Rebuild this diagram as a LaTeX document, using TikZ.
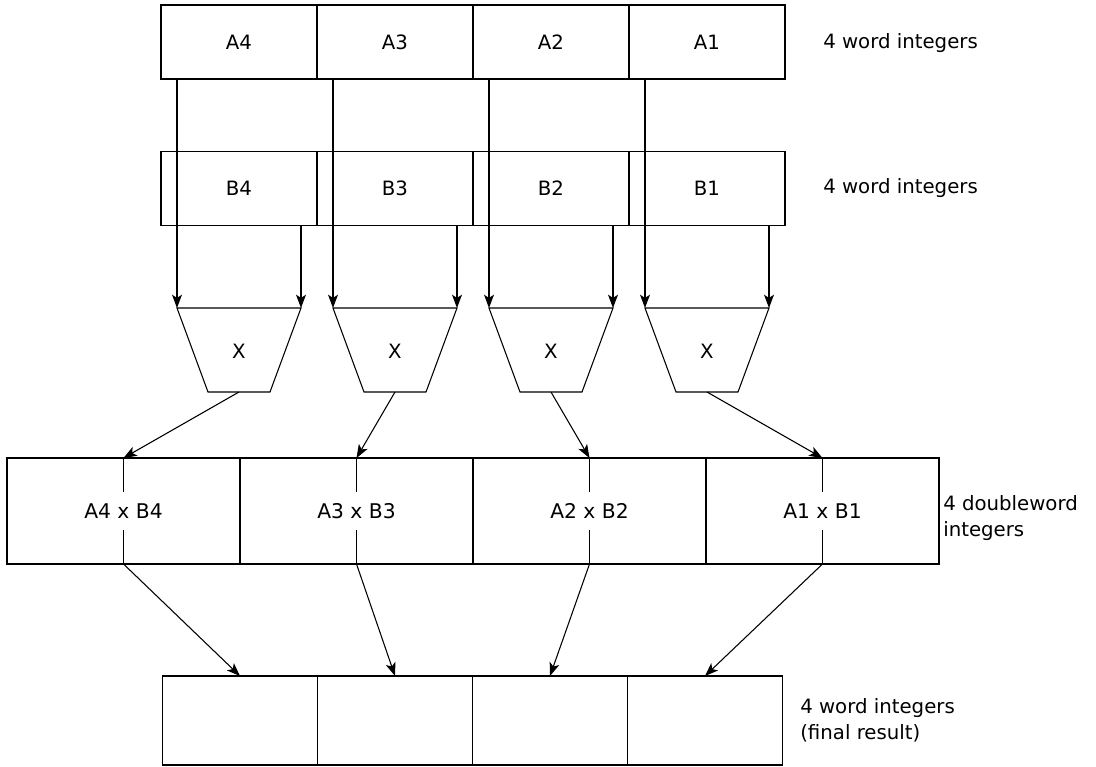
\documentclass[tikz,border=0pt]{standalone}
\usepackage{fontspec}
\setmainfont{DejaVu Sans}
\usetikzlibrary{arrows.meta}

\begin{document}
\begin{tikzpicture}[x=0.75pt,y=-0.75pt,
    font=\fontsize{14.8}{19.5}\selectfont,
    >={Stealth[length=10pt,width=7.5pt,inset=2.5pt]},
    cell/.style={draw,line width=0.9pt,inner sep=0pt,outer sep=0pt},
    word/.style={cell,minimum width=117pt,minimum height=55.5pt},
    dword/.style={cell,minimum width=174.75pt,minimum height=79.5pt},
    res/.style={cell,minimum width=116.25pt,minimum height=66.75pt},
    prod/.style={inner sep=0pt,minimum height=28.5pt,font=\fontsize{15.2}{19.5}\selectfont},
    lbl/.style={anchor=west,align=left,inner sep=0pt},
    wire/.style={line width=0.8pt},
    arr/.style={wire,->},
  ]
  \useasboundingbox (0,0) rectangle (1096,767);

  % Operand rows
  \foreach \i [count=\k from 0] in {4,3,2,1}{
    \node[word] (a\i) at (239+156*\k,42) {A\i};
    \node[word] (b\i) at (239+156*\k,188.5) {B\i};
  }

  % Multipliers
  \foreach \i [count=\k from 0] in {4,3,2,1}{
    \pgfmathsetmacro\cx{239+156*\k}
    \coordinate (tl\i) at (\cx-62,308);
    \coordinate (tr\i) at (\cx+62,308);
    \coordinate (bl\i) at (\cx-31,392);
    \coordinate (br\i) at (\cx+31,392);
    \coordinate (out\i) at (\cx,392);
    \draw[wire] (tl\i) -- (tr\i) -- (br\i) -- (bl\i) -- cycle;
    \node (mul\i) at (\cx,351) {X};
    \draw[arr] (tl\i |- a\i.south) -- (tl\i);
    \draw[arr] (tr\i |- b\i.south) -- (tr\i);
  }

  % Products and final result
  \foreach \i [count=\k from 0] in {4,3,2,1}{
    \node[dword] (p\i) at (123.5+233*\k,511) {};
    \node[prod] (t\i) at (p\i) {A\i{} x B\i};
    \draw[wire] (p\i.north) -- (t\i.north);
    \draw[wire] (t\i.south) -- (p\i.south);
    \draw[arr] (out\i) -- (p\i.north);
    \node[res] (f\i) at (240+155*\k,720.5) {};
    \draw[arr] (p\i.south) -- (f\i.north);
  }

  % Labels
  \node[lbl] (lba) at (823,43) {4 word integers};
  \node[lbl] (lbb) at (823,188) {4 word integers};
  \node[lbl] (lbp) at (943,518) {4 doubleword\\integers};
  \node[lbl] (lbf) at (800,720) {4 word integers\\(final result)};
\end{tikzpicture}
\end{document}
